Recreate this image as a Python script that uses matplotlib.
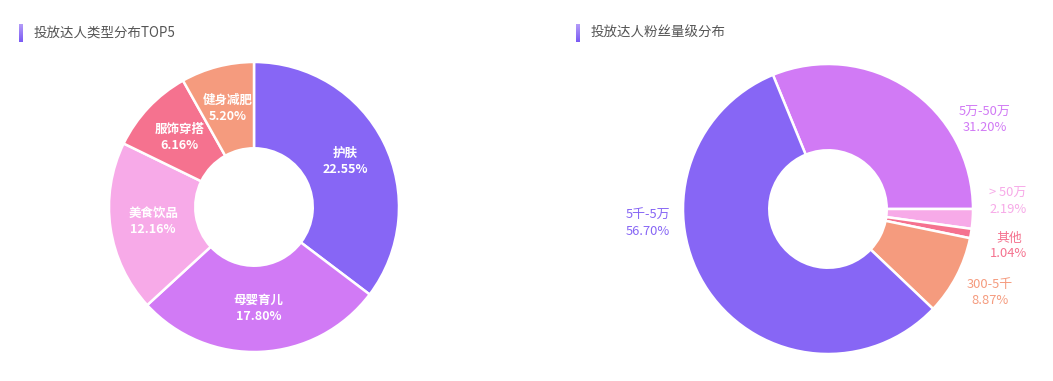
import matplotlib
matplotlib.use("Agg")
import matplotlib.pyplot as plt
import numpy as np
from matplotlib.colors import LinearSegmentedColormap

plt.rcParams['font.family'] = ['Noto Sans CJK SC', 'DejaVu Sans']

# ---- data ----
left_title = "投放达人类型分布TOP5"
left_cats = ["护肤", "母婴育儿", "美食饮品", "服饰穿搭", "健身减肥"]
left_vals = [22.55, 17.80, 12.16, 6.16, 5.20]
left_colors = ["#8766F5", "#D17AF5", "#F7AAE8", "#F5728F", "#F59B7E"]

right_title = "投放达人粉丝量级分布"
right_cats = ["5万-50万", "> 50万", "其他", "300-5千", "5千-5万"]
right_vals = [31.20, 2.19, 1.04, 8.87, 56.70]
right_colors = ["#D17AF5", "#F7AAE8", "#F5728F", "#F59B7E", "#8766F5"]
# label anchor offsets (in pie radius units) for outside labels
right_label_pos = [(1.083, 0.614), (1.24, 0.055), (1.248, -0.255), (1.117, -0.579), (-1.241, -0.097)]

W, H = 1053, 381
fig = plt.figure(figsize=(W / 100, H / 100), dpi=100)
fig.patch.set_facecolor("white")

R = 145
INNER = 0.405


def pie_axes(cx, cy):
    return fig.add_axes([(cx - R) / W, (H - cy - R) / H, 2 * R / W, 2 * R / H])


def fix_axes(ax):
    ax.set_xlim(-1, 1)
    ax.set_ylim(-1, 1)
    ax.set_aspect("equal")
    ax.axis("off")


# left donut
axl = pie_axes(254, 207)
wedges, _ = axl.pie(left_vals, colors=left_colors, startangle=90, counterclock=False,
                    radius=1, wedgeprops=dict(width=1 - INNER, edgecolor="white", linewidth=1.8),
                    normalize=True)
fix_axes(axl)
for w, c, v in zip(wedges, left_cats, left_vals):
    ang = np.deg2rad((w.theta1 + w.theta2) / 2)
    r = (1 + INNER) / 2
    axl.text(r * np.cos(ang), r * np.sin(ang), f"{c}\n{v:.2f}%", ha="center", va="center",
             color="white", fontsize=9.0, fontweight="bold", linespacing=1.3)

# right donut: first slice ends at the horizontal
axr = pie_axes(828, 209)
startang = right_vals[0] / sum(right_vals) * 360
wedges, _ = axr.pie(right_vals, colors=right_colors, startangle=startang, counterclock=False,
                    radius=1, wedgeprops=dict(width=1 - INNER, edgecolor="white", linewidth=1.8),
                    normalize=True)
fix_axes(axr)
for (px, py), c, v, col in zip(right_label_pos, right_cats, right_vals, right_colors):
    axr.text(px, py, f"{c}\n{v:.2f}%", ha="center", va="center", color=col,
             fontsize=9.3, linespacing=1.3, clip_on=False)

# titles with gradient bars
grad = LinearSegmentedColormap.from_list("g", ["#B49CF8", "#7A5AF4"])
for x0, title in [(19, left_title), (576, right_title)]:
    bax = fig.add_axes([x0 / W, (H - 42) / H, 4 / W, 18 / H])
    bax.imshow(np.linspace(0, 1, 50).reshape(-1, 1), aspect="auto", cmap=grad)
    bax.axis("off")
    fig.text((x0 + 15) / W, (H - 33) / H, title, ha="left", va="center",
             fontsize=9.7, color="#555555")

fig.savefig("out.png", dpi=100, facecolor="white")
